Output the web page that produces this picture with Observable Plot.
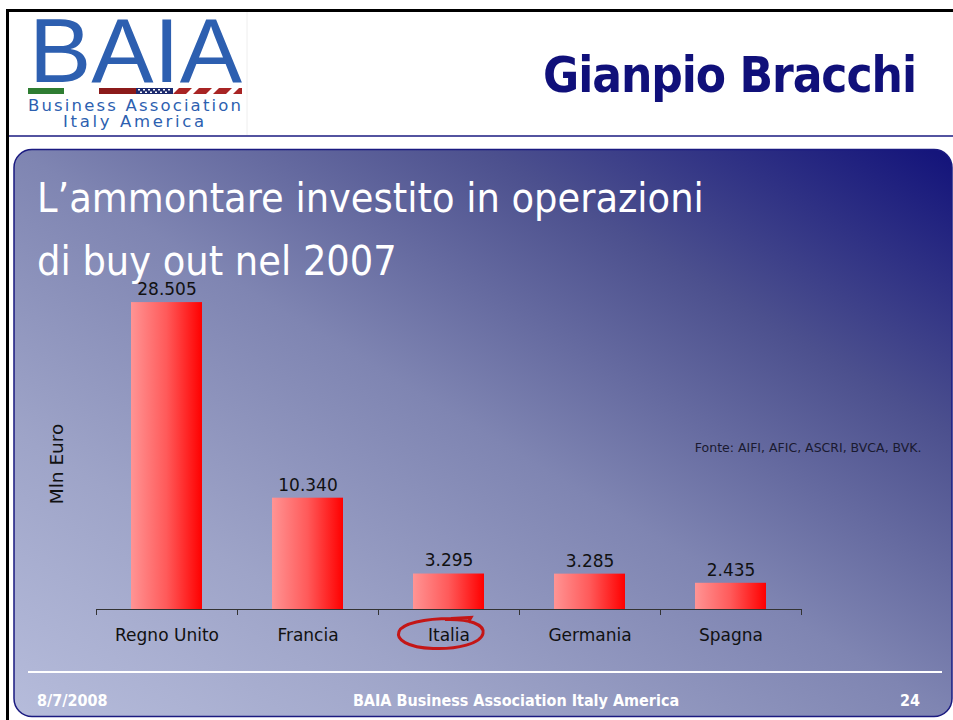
<!DOCTYPE html>
<html>
<head>
<meta charset="utf-8">
<script src="https://cdn.jsdelivr.net/npm/d3@7"></script>
<script src="https://cdn.jsdelivr.net/npm/@observablehq/plot@0.6"></script>
<style>
  html, body { margin: 0; padding: 0; background: #fff; }
  #page { position: relative; width: 953px; height: 720px; overflow: hidden; background: #fff; }
  #bg { position: absolute; left: 0; top: 0; }
  #chart { position: absolute; left: 0; top: 260px; }
  .cond { font-family: "DejaVu Sans Condensed", "DejaVu Sans", sans-serif; font-stretch: condensed; }
</style>
</head>
<body>
<div id="page">
<svg id="bg" width="953" height="720" viewBox="0 0 953 720">
  <defs>
    <linearGradient id="panelGrad" x1="0" y1="1" x2="1" y2="0">
      <stop offset="0" stop-color="#b6bcdb"/>
      <stop offset="0.25" stop-color="#9ea4c8"/>
      <stop offset="0.5" stop-color="#7f85b2"/>
      <stop offset="0.75" stop-color="#4c508e"/>
      <stop offset="1" stop-color="#12127a"/>
    </linearGradient>
  </defs>
  <!-- page frame -->
  <rect x="6" y="9" width="947" height="3" fill="#000"/>
  <rect x="6" y="9" width="3" height="711" fill="#000"/>
  <line x1="9" y1="136" x2="953" y2="136" stroke="#1a1a80" stroke-width="1.5"/>
  <line x1="247" y1="12" x2="247" y2="135" stroke="#eeeeee" stroke-width="1"/>
  <!-- logo -->
  <text x="29" y="82" font-family="Liberation Sans, Arial, sans-serif" font-size="90" fill="#2d5fb0" textLength="213" lengthAdjust="spacingAndGlyphs">BAIA</text>
  <rect x="28" y="88" width="36" height="6" fill="#2e7d32"/>
  <rect x="99" y="88" width="37" height="6" fill="#8b1a1a"/>
  <rect x="136" y="88" width="37" height="6" fill="#1c2a6e"/>
  <g fill="#fff">
    <rect x="138" y="89" width="2" height="1.5"/><rect x="143" y="89" width="2" height="1.5"/><rect x="148" y="89" width="2" height="1.5"/><rect x="153" y="89" width="2" height="1.5"/><rect x="158" y="89" width="2" height="1.5"/><rect x="163" y="89" width="2" height="1.5"/><rect x="168" y="89" width="2" height="1.5"/>
    <rect x="140" y="91.5" width="2" height="1.5"/><rect x="145" y="91.5" width="2" height="1.5"/><rect x="150" y="91.5" width="2" height="1.5"/><rect x="155" y="91.5" width="2" height="1.5"/><rect x="160" y="91.5" width="2" height="1.5"/><rect x="165" y="91.5" width="2" height="1.5"/>
  </g>
  <g fill="#a82424">
    <polygon points="173,94 179,88 192,88 186,94"/>
    <polygon points="193,94 199,88 212,88 206,94"/>
    <polygon points="213,94 219,88 232,88 226,94"/>
    <polygon points="233,94 239,88 242,88 242,94"/>
  </g>
  <text x="28" y="111" font-family="DejaVu Sans, sans-serif" font-size="16.5" fill="#2d5fb0" textLength="213" lengthAdjust="spacing">Business Association</text>
  <text x="63" y="127" font-family="DejaVu Sans, sans-serif" font-size="16.5" fill="#2d5fb0" textLength="141" lengthAdjust="spacing">Italy America</text>
  <!-- header name -->
  <text x="543" y="92" class="cond" font-weight="bold" font-size="49" fill="#10107a" textLength="374">Gianpio Bracchi</text>
  <!-- panel -->
  <rect x="14" y="149.5" width="938" height="567" rx="18" ry="18" fill="url(#panelGrad)" stroke="#1a1a80" stroke-width="1.5"/>
  <text x="37" y="212" class="cond" font-size="41" fill="#ffffff">L’ammontare investito in operazioni</text>
  <text x="37" y="275" class="cond" font-size="41" fill="#ffffff">di buy out nel 2007</text>
  <line x1="28" y1="672" x2="942" y2="672" stroke="#ffffff" stroke-width="2"/>
  <text x="37" y="706" class="cond" font-weight="bold" font-size="16" fill="#ffffff">8/7/2008</text>
  <text x="516" y="706" class="cond" font-weight="bold" font-size="16" fill="#ffffff" text-anchor="middle">BAIA Business Association Italy America</text>
  <text x="920" y="706" class="cond" font-weight="bold" font-size="16" fill="#ffffff" text-anchor="end">24</text>
</svg>
<div id="chart"></div>
</div>
<script>
// ---- data ----
const categories = ["Regno Unito", "Francia", "Italia", "Germania", "Spagna"];
const values = [28505, 10340, 3295, 3285, 2435];
const yLabel = "Mln Euro";
const sourceNote = "Fonte: AIFI, AFIC, ASCRI, BVCA, BVK.";
const highlighted = "Italia";

const rows = categories.map((c, i) => ({cat: c, i, v: values[i]}));
const itFmt = d3.formatLocale({decimal: ",", thousands: ".", grouping: [3], currency: ["€", ""]}).format(",");

// hand-drawn ellipse symbol
const handEllipse = {
  draw(ctx) {
    ctx.moveTo(4, -14);
    ctx.bezierCurveTo(28, -15, 44, -9, 42, 0);
    ctx.bezierCurveTo(40, 10, 16, 16, -8, 15);
    ctx.bezierCurveTo(-34, 14, -45, 6, -42, -2);
    ctx.bezierCurveTo(-39, -10, -16, -15, 10, -15);
    ctx.lineTo(30, -16);
    ctx.lineTo(27, -11);
  }
};

const plot = Plot.plot({
  width: 953,
  height: 400,
  marginLeft: 96,
  marginRight: 152,
  marginTop: 26,
  marginBottom: 51,
  x: {domain: [0, categories.length], axis: null},
  y: {domain: [0, 30000], axis: null},
  style: {fontFamily: "DejaVu Sans, sans-serif", fontSize: "17px", background: "transparent", overflow: "visible", color: "#222"},
  marks: [
    Plot.rectY(rows, {x1: d => d.i, x2: d => d.i + 1, y: "v", insetLeft: 35, insetRight: 35, fill: "url(#barGrad)"}),
    Plot.ruleY([0], {stroke: "#333", strokeWidth: 1.2}),
    Plot.axisX({ticks: d3.range(categories.length + 1), tickFormat: () => "", tickSize: 6, stroke: "#333", label: null}),
    Plot.text(rows, {x: d => d.i + 0.5, y: 0, text: "cat", dy: 26, fill: "#111", fontSize: 17}),
    Plot.text(rows, {x: d => d.i + 0.5, y: "v", text: d => itFmt(d.v), dy: -13, fill: "#111", fontSize: 17}),
    Plot.text([yLabel], {frameAnchor: "left", textAnchor: "middle", dx: -39, dy: 16, rotate: -90, fill: "#111", fontSize: 18.5}),
    Plot.text([sourceNote], {frameAnchor: "right", textAnchor: "end", dx: 120, fill: "#1a1a30", fontSize: 12.5}),
    Plot.dot(rows.filter(d => d.cat === highlighted), {x: d => d.i + 0.5, y: 0, dx: -8, dy: 24, symbol: handEllipse, stroke: "#c41616", strokeWidth: 3, fill: "none"})
  ]
});

d3.select(plot).insert("defs", ":first-child").html(
  '<linearGradient id="barGrad" x1="0" x2="1" y1="0" y2="0">' +
  '<stop offset="0" stop-color="#ff9494"/><stop offset="0.5" stop-color="#ff5a5a"/><stop offset="1" stop-color="#ff0000"/>' +
  '</linearGradient>'
);

document.getElementById("chart").appendChild(plot);
</script>
</body>
</html>
